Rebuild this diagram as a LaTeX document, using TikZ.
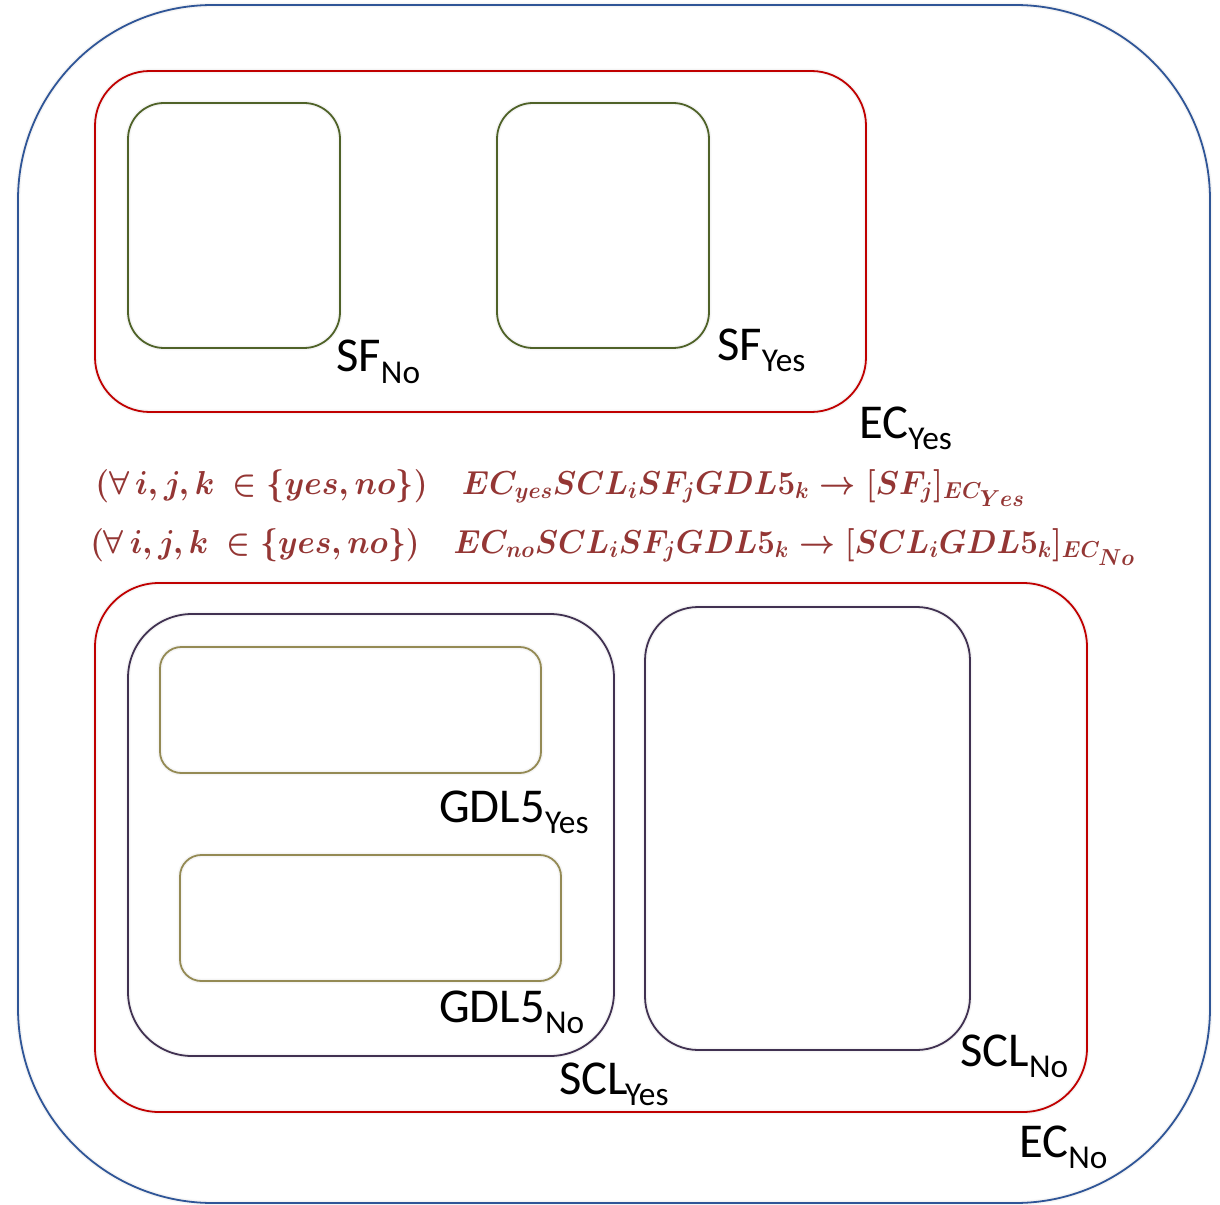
\documentclass[tikz,border=0pt]{standalone}
\usepackage{fontspec}
\setmainfont{Carlito}
\DeclareMathSizes{27}{27}{19}{16}
\definecolor{ecblue}{RGB}{47,85,151}
\definecolor{ecred}{RGB}{192,0,0}
\definecolor{sfgreen}{RGB}{79,98,40}
\definecolor{sclpurple}{RGB}{64,49,81}
\definecolor{gdlolive}{RGB}{148,138,84}
\definecolor{rulered}{RGB}{148,54,52}
\newcommand\setlabel[2]{#1\raisebox{-0.24em}{\fontsize{25}{28}\selectfont #2}}
\begin{document}
\begin{tikzpicture}[x=0.75pt,y=-0.75pt,
  frame/.style={line width=1.35pt, line join=round},
  halo/.style={line width=3.5pt, draw=black!4},
  lbl/.style={inner sep=0pt, anchor=base west, font=\fontsize{36.5}{40}\selectfont},
  rule/.style={inner sep=0pt, anchor=base west, text=rulered, font=\fontsize{27}{30}\selectfont\boldmath}]
\useasboundingbox (0,0) rectangle (1220,1205);
\fill[white] (0,0) rectangle (1220,1205);

% outer region
\draw[halo, rounded corners=146pt] (18,5) rectangle (1210,1203);
\draw[frame, ecblue, rounded corners=146pt] (18,5) rectangle (1210,1203);

% EC yes region and its two SF boxes
\draw[halo, rounded corners=41pt] (95,71) rectangle (866,412);
\draw[frame, ecred, rounded corners=41pt] (95,71) rectangle (866,412);
\draw[halo, rounded corners=27pt] (128,103) rectangle (340,348);
\draw[frame, sfgreen, rounded corners=27pt] (128,103) rectangle (340,348);
\draw[halo, rounded corners=27pt] (497,103) rectangle (709,348);
\draw[frame, sfgreen, rounded corners=27pt] (497,103) rectangle (709,348);

% EC no region with SCL and GDL5 boxes
\draw[halo, rounded corners=48pt] (95,583) rectangle (1087,1112);
\draw[frame, ecred, rounded corners=48pt] (95,583) rectangle (1087,1112);
\draw[halo, rounded corners=48pt] (128,614) rectangle (614,1056);
\draw[frame, sclpurple, rounded corners=48pt] (128,614) rectangle (614,1056);
\draw[halo, rounded corners=40pt] (645,607) rectangle (970,1050);
\draw[frame, sclpurple, rounded corners=40pt] (645,607) rectangle (970,1050);
\draw[halo, rounded corners=16pt] (160,647) rectangle (541,773);
\draw[frame, gdlolive, rounded corners=16pt] (160,647) rectangle (541,773);
\draw[halo, rounded corners=16pt] (180,855) rectangle (561,981);
\draw[frame, gdlolive, rounded corners=16pt] (180,855) rectangle (561,981);

% set labels
\node[lbl] (sfno)   at (336,372)  {\setlabel{SF}{No}};
\node[lbl] (sfyes)  at (717,360)  {\setlabel{SF}{Yes}};
\node[lbl] (ecyes)  at (859,438)  {\setlabel{EC}{Yes}};
\node[lbl] (gdlyes) at (439,822)  {\setlabel{GDL5}{Yes}};
\node[lbl] (gdlno)  at (439,1022) {\setlabel{GDL5}{No}};
\node[lbl] (sclyes) at (559,1094) {SCL\kern-0.06em\raisebox{-0.24em}{\fontsize{25}{28}\selectfont Yes}};
\node[lbl] (sclno)  at (960,1066) {\setlabel{SCL}{No}};
\node[lbl] (ecno)   at (1019,1157) {\setlabel{EC}{No}};

% projection rules
\node[rule] (rule1) at (95,494)
  {\resizebox{697.5pt}{\height}{$(\forall\, i,j,k\ \in\{yes,no\})\quad EC_{yes}SCL_iSF_jGDL5_k\rightarrow[SF_j]_{EC_{Yes}}$}};
\node[rule] (rule2) at (90,553)
  {\resizebox{783.75pt}{\height}{$(\forall\, i,j,k\ \in\{yes,no\})\quad EC_{no}SCL_iSF_jGDL5_k\rightarrow[SCL_iGDL5_k]_{EC_{No}}$}};
\end{tikzpicture}
\end{document}
